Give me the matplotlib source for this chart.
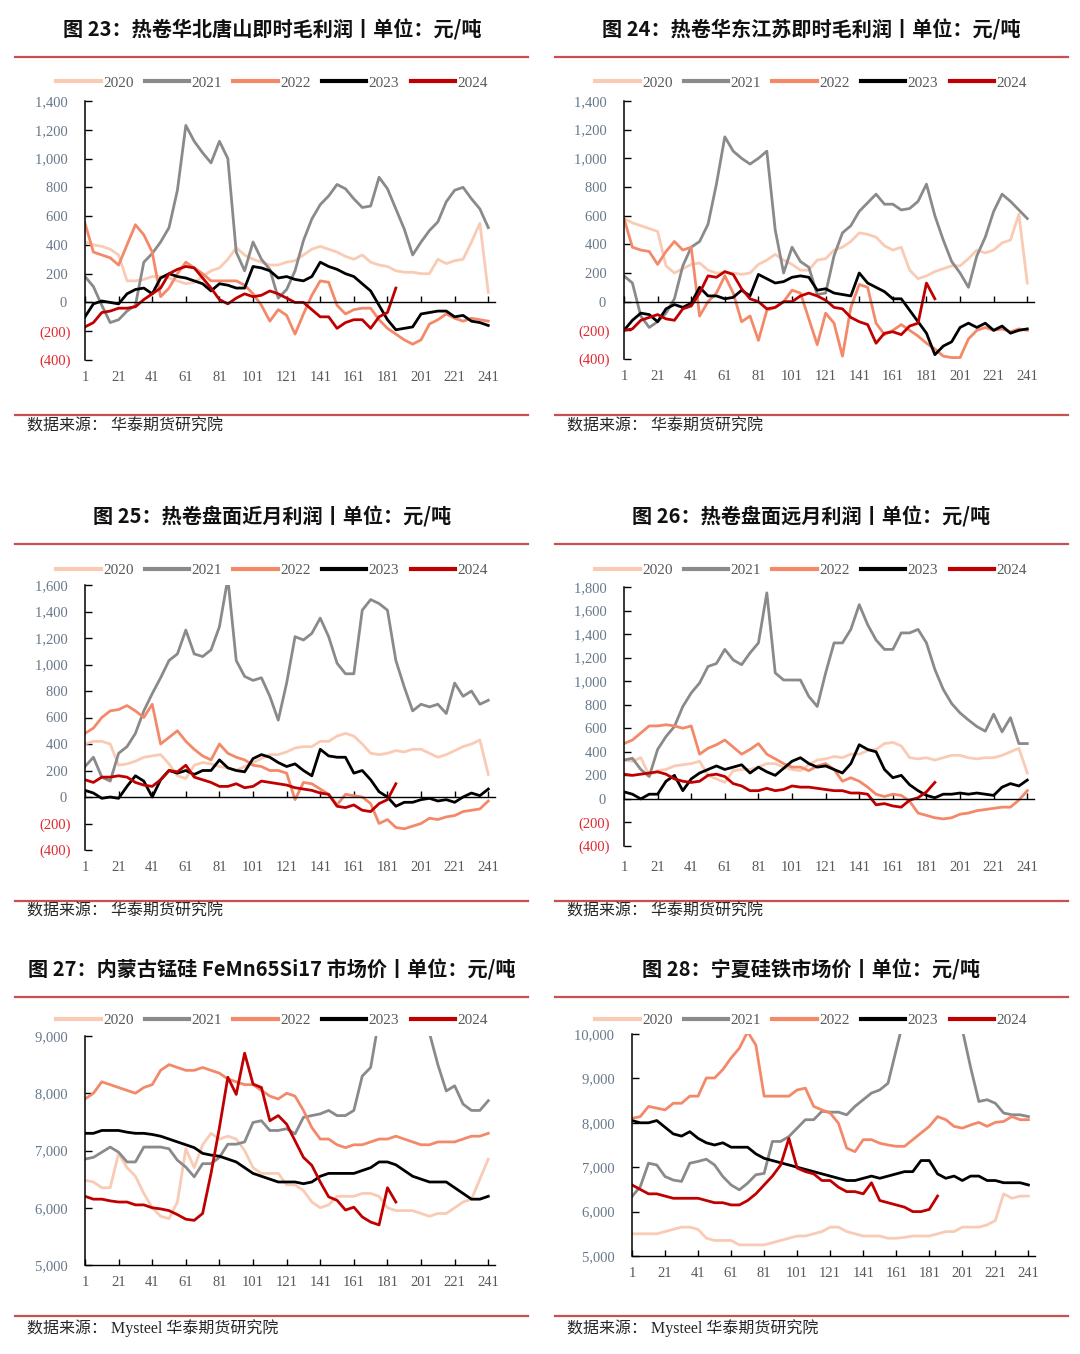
import matplotlib.pyplot as plt
from matplotlib.lines import Line2D

plt.rcParams['font.family'] = ['Liberation Serif', 'Noto Sans CJK SC']

# trading-day index, sampled every 5 days
days = list(range(1, 242, 5))
days_2024 = days[:38]
xticks = list(range(1, 242, 20))

years = ['2020', '2021', '2022', '2023', '2024']
colors = ['#F9CBB4', '#8A8A8A', '#F4896A', '#000000', '#C00000']

# 图23 热卷华北唐山即时毛利润
ts_2020 = [420, 400, 390, 370, 330, 150, 150, 160, 180, 180, 170, 150, 130, 140, 180, 220, 240, 300, 380, 330,
           300, 280, 260, 260, 280, 290, 330, 370, 390, 370, 350, 320, 300, 330, 280, 260, 250, 220, 210, 210,
           200, 200, 300, 270, 290, 300, 420, 550, 70]
ts_2021 = [180, 110, -20, -140, -120, -60, -20, 280, 340, 420, 520, 780, 1230, 1120, 1040, 970, 1120, 1000, 350, 220,
           420, 300, 230, 30, 90, 220, 430, 580, 680, 740, 820, 790, 720, 660, 670, 870, 790, 650, 510, 330,
           420, 500, 560, 700, 780, 800, 720, 650, 520]
ts_2022 = [550, 350, 330, 310, 260, 400, 540, 470, 350, 40, 100, 200, 280, 240, 200, 150, 150, 150, 150, 120,
           60, -20, -130, -50, -90, -220, -80, 50, 150, 140, -20, -80, -50, -40, -40, -120, -180, -220, -260, -290,
           -260, -150, -120, -80, -110, -130, -110, -120, -130]
ts_2023 = [-100, -10, 10, 0, -10, 60, 90, 100, 60, 170, 200, 180, 170, 150, 130, 80, 130, 120, 100, 100,
           250, 240, 220, 170, 180, 160, 150, 180, 280, 250, 230, 200, 180, 130, 80, -20, -120, -190, -180, -170,
           -80, -70, -60, -60, -100, -90, -130, -140, -160]
ts_2024 = [-170, -140, -70, -60, -40, -40, -30, 20, 60, 100, 200, 230, 250, 240, 170, 100, 20, -10, 30, 60,
           40, 50, 80, 60, 30, 0, 0, -50, -100, -100, -180, -140, -120, -120, -180, -100, -70, 100]

# 图24 热卷华东江苏即时毛利润
js_2020 = [580, 550, 530, 510, 490, 250, 200, 230, 260, 270, 220, 200, 200, 200, 190, 200, 260, 290, 330, 290,
           260, 220, 220, 290, 300, 360, 380, 420, 480, 470, 450, 390, 360, 380, 220, 160, 180, 210, 230, 250,
           250, 300, 360, 340, 360, 410, 430, 610, 130]
js_2021 = [180, 130, -100, -180, -140, -80, 20, 250, 380, 420, 540, 820, 1150, 1050, 1000, 960, 1000, 1050, 500, 200,
           380, 280, 240, 50, 60, 320, 480, 530, 630, 690, 750, 680, 680, 640, 650, 700, 820, 600, 430, 280,
           200, 100, 320, 450, 630, 750, 700, 640, 580]
js_2022 = [580, 380, 360, 350, 260, 350, 420, 360, 380, -100, 0, 60, 180, 60, -140, -100, -270, -60, -40, 0,
           80, 60, -120, -300, -80, -150, -380, -40, 120, 100, -150, -230, -200, -160, -200, -240, -290, -330, -380, -390,
           -390, -260, -200, -180, -200, -190, -210, -190, -200]
js_2023 = [-200, -130, -80, -90, -140, -50, -20, -40, -10, 100, 40, 40, 20, 30, 80, 40, 190, 160, 130, 140,
           170, 180, 170, 80, 90, 60, 50, 40, 200, 130, 100, 70, 20, 20, -60, -140, -220, -370, -310, -280,
           -180, -150, -180, -150, -200, -170, -220, -200, -190]
js_2024 = [-200, -190, -130, -110, -90, -120, -130, -50, -30, 60, 180, 170, 210, 190, 90, 20, 0, -50, -40, 0,
           0, 40, 60, 40, 10, -40, -50, -110, -140, -160, -290, -220, -210, -230, -170, -150, 130, 20]

# 图25 热卷盘面近月利润
jy_2020 = [400, 420, 420, 400, 240, 250, 270, 300, 310, 320, 250, 160, 140, 240, 260, 250, 230, 220, 200, 230,
           260, 290, 320, 320, 340, 370, 380, 380, 420, 420, 460, 480, 460, 400, 330, 320, 330, 350, 340, 360,
           360, 330, 300, 320, 350, 380, 400, 430, 170]
jy_2021 = [230, 300, 150, 120, 330, 380, 480, 650, 780, 900, 1030, 1080, 1260, 1080, 1060, 1110, 1285, 1650, 1030, 910,
           880, 900, 760, 580, 860, 1210, 1185, 1235, 1350, 1210, 1010, 930, 930, 1410, 1490, 1460, 1410, 1030, 830, 650,
           700, 680, 700, 630, 860, 760, 800, 700, 730]
jy_2022 = [480, 520, 600, 650, 660, 690, 650, 600, 700, 400, 450, 500, 420, 360, 310, 280, 400, 330, 300, 280,
           240, 230, 200, 200, 180, -20, 110, 100, 60, 20, -60, 20, 10, 0, -50, -200, -170, -230, -240, -220,
           -200, -160, -170, -150, -140, -110, -100, -90, -30]
jy_2023 = [50, 30, -10, 0, -10, 80, 160, 120, 0, 130, 200, 180, 200, 170, 200, 200, 280, 220, 200, 190,
           290, 320, 300, 260, 230, 250, 200, 160, 360, 310, 300, 300, 180, 200, 130, 40, 0, -70, -40, -40,
           -20, -10, -30, -20, -40, 0, 30, 10, 60]
jy_2024 = [130, 110, 150, 150, 160, 150, 110, 90, 80, 130, 200, 190, 240, 150, 130, 110, 80, 80, 100, 70,
           80, 120, 110, 100, 90, 70, 60, 50, 30, 20, -70, -80, -60, -100, -110, -50, -20, 100]

# 图26 热卷盘面远月利润
yy_2020 = [330, 320, 350, 200, 240, 250, 280, 290, 300, 320, 200, 170, 140, 240, 250, 250, 270, 300, 300, 270,
           250, 240, 290, 330, 340, 360, 350, 380, 380, 410, 420, 470, 480, 450, 350, 340, 350, 330, 350, 370,
           370, 350, 340, 350, 350, 370, 400, 430, 220]
yy_2021 = [330, 345, 250, 190, 420, 530, 615, 785, 900, 985, 1125, 1150, 1270, 1180, 1140, 1240, 1325, 1750, 1070, 1010,
           1010, 1010, 870, 785, 1070, 1325, 1325, 1440, 1650, 1480, 1350, 1270, 1270, 1410, 1410, 1440, 1325, 1100, 930, 810,
           730, 670, 615, 575, 720, 570, 690, 470, 470]
yy_2022 = [470, 500, 560, 620, 620, 630, 620, 600, 620, 380, 430, 460, 500, 440, 380, 420, 470, 380, 340, 300,
           270, 270, 240, 280, 300, 250, 150, 180, 150, 100, 40, 20, 40, 30, -20, -120, -140, -160, -170, -160,
           -130, -120, -100, -90, -80, -70, -70, -10, 70]
yy_2023 = [60, 40, 0, 40, 40, 150, 200, 70, 170, 220, 250, 280, 250, 270, 290, 220, 270, 230, 200, 260,
           320, 350, 300, 270, 280, 250, 220, 300, 460, 420, 400, 250, 180, 200, 120, 70, 30, 10, 40, 40,
           50, 40, 50, 40, 30, 100, 130, 110, 160]
yy_2024 = [210, 200, 210, 220, 230, 210, 170, 150, 140, 150, 200, 210, 190, 130, 110, 70, 70, 90, 70, 80,
           110, 100, 100, 90, 80, 70, 70, 50, 50, 40, -50, -40, -60, -70, -10, 10, 60, 140]

# 图27 内蒙古锰硅 FeMn65Si17 市场价
mn_2020 = [6480, 6450, 6350, 6350, 6950, 6700, 6550, 6250, 6000, 5850, 5810, 6100, 7030, 6700, 7100, 7300, 7200, 7250, 7200, 7000,
           6700, 6600, 6600, 6600, 6400, 6400, 6300, 6100, 6000, 6050, 6200, 6200, 6200, 6250, 6250, 6200, 6000, 5950, 5950, 5950,
           5900, 5850, 5900, 5900, 6000, 6100, 6150, 6500, 6850]
mn_2021 = [6850, 6880, 6970, 7060, 6970, 6800, 6800, 7060, 7060, 7060, 7030, 6830, 6710, 6540, 6770, 6770, 6880, 7110, 7110, 7150,
           7490, 7520, 7350, 7350, 7380, 7290, 7580, 7610, 7640, 7700, 7610, 7610, 7700, 8300, 8450, 9300, 9900, 10200, 10300, 10200,
           9800, 9050, 8500, 8040, 8130, 7810, 7700, 7700, 7870]
mn_2022 = [7900, 8000, 8200, 8150, 8100, 8050, 8000, 8100, 8150, 8400, 8500, 8450, 8400, 8400, 8450, 8400, 8350, 8250, 8200, 8150,
           8150, 8050, 7950, 7900, 8000, 7950, 7700, 7400, 7200, 7200, 7100, 7050, 7100, 7100, 7150, 7200, 7200, 7250, 7200, 7150,
           7100, 7100, 7150, 7150, 7150, 7200, 7250, 7250, 7300]
mn_2023 = [7300, 7300, 7350, 7350, 7350, 7320, 7300, 7300, 7280, 7250, 7200, 7150, 7100, 7050, 6950, 6920, 6900, 6850, 6800, 6700,
           6600, 6550, 6500, 6450, 6450, 6450, 6420, 6450, 6550, 6600, 6600, 6600, 6600, 6650, 6700, 6800, 6800, 6750, 6650, 6550,
           6500, 6450, 6450, 6450, 6350, 6250, 6150, 6150, 6200]
mn_2024 = [6200, 6150, 6150, 6120, 6100, 6100, 6050, 6050, 6000, 5980, 5950, 5880, 5800, 5780, 5900, 6600, 7400, 8280, 7980, 8700,
           8160, 8100, 7520, 7610, 7460, 7170, 6880, 6740, 6450, 6190, 6130, 5960, 6010, 5840, 5750, 5700, 6350, 6100]

# 图28 宁夏硅铁市场价
fs_2020 = [5500, 5500, 5500, 5500, 5550, 5600, 5650, 5650, 5600, 5400, 5350, 5350, 5350, 5250, 5250, 5250, 5250, 5300, 5350, 5400,
           5450, 5450, 5500, 5550, 5650, 5650, 5550, 5500, 5450, 5450, 5450, 5400, 5400, 5420, 5450, 5450, 5450, 5500, 5550, 5550,
           5650, 5650, 5650, 5700, 5800, 6400, 6300, 6350, 6350]
fs_2021 = [6340, 6560, 7090, 7050, 6790, 6710, 6680, 7090, 7130, 7180, 7050, 6790, 6600, 6490, 6640, 6830, 6860, 7580, 7580, 7690,
           7880, 8070, 8070, 8260, 8240, 8240, 8180, 8370, 8520, 8670, 8740, 8890, 9650, 10400, 10800, 11000, 11000, 10900, 10700, 10400,
           10100, 9250, 8480, 8520, 8440, 8220, 8180, 8180, 8140]
fs_2022 = [8100, 8140, 8370, 8330, 8290, 8440, 8440, 8600, 8600, 9010, 9010, 9200, 9460, 9680, 10050, 9750, 8600, 8600, 8600, 8600,
           8740, 8780, 8370, 8290, 8220, 7990, 7430, 7350, 7620, 7620, 7540, 7500, 7470, 7470, 7620, 7770, 7920, 8140, 8070, 7920,
           7880, 7950, 8010, 7920, 8010, 8030, 8140, 8070, 8070]
fs_2023 = [8050, 8000, 8000, 8050, 7900, 7750, 7700, 7800, 7650, 7550, 7500, 7550, 7450, 7450, 7450, 7300, 7200, 7150, 7100, 7050,
           7000, 6950, 6900, 6850, 6800, 6750, 6700, 6700, 6750, 6800, 6750, 6800, 6850, 6900, 6900, 7150, 7150, 6850, 6750, 6800,
           6700, 6800, 6800, 6700, 6700, 6650, 6650, 6650, 6600]
fs_2024 = [6600, 6500, 6400, 6400, 6350, 6300, 6300, 6300, 6300, 6250, 6200, 6200, 6150, 6150, 6250, 6400, 6600, 6800, 7050, 7650,
           6980, 6900, 6850, 6700, 6700, 6550, 6450, 6450, 6400, 6650, 6250, 6200, 6150, 6100, 6000, 6000, 6050, 6350]

titles = ['图 23：热卷华北唐山即时毛利润丨单位：元/吨',
          '图 24：热卷华东江苏即时毛利润丨单位：元/吨',
          '图 25：热卷盘面近月利润丨单位：元/吨',
          '图 26：热卷盘面远月利润丨单位：元/吨',
          '图 27：内蒙古锰硅 FeMn65Si17 市场价丨单位：元/吨',
          '图 28：宁夏硅铁市场价丨单位：元/吨']
sources = ['数据来源： 华泰期货研究院'] * 4 + ['数据来源： Mysteel 华泰期货研究院'] * 2

series = [
    [ts_2020, ts_2021, ts_2022, ts_2023, ts_2024],
    [js_2020, js_2021, js_2022, js_2023, js_2024],
    [jy_2020, jy_2021, jy_2022, jy_2023, jy_2024],
    [yy_2020, yy_2021, yy_2022, yy_2023, yy_2024],
    [mn_2020, mn_2021, mn_2022, mn_2023, mn_2024],
    [fs_2020, fs_2021, fs_2022, fs_2023, fs_2024],
]
yranges = [(-400, 1400, 200), (-400, 1400, 200), (-400, 1600, 200),
           (-400, 1800, 200), (5000, 9000, 1000), (5000, 10000, 1000)]

# layout in pixels: axes (left, top, width, bottom); per row: title y, top rule y, legend y, bottom rule y, source y
W, H = 1080, 1354
axes_px = [(85, 101, 410, 360), (624, 101, 410, 359),
           (85, 585, 410, 850), (624, 587, 410, 846),
           (85, 1036, 410, 1265), (632, 1034, 403, 1256)]
row_px = [(30, 57, 83, 415, 427), (517, 544, 570, 901, 912), (970, 997, 1020, 1316, 1328)]
col_px = [(15, 528, 272, 27), (555, 1068, 811, 567)]
label_pad = [8, 8, 8, 11, 8, 8]

fig = plt.figure(figsize=(W / 100, H / 100), dpi=100)


def fmt(v):
    return f'({-v:,})' if v < 0 else f'{v:,} '


for i in range(6):
    row, col = divmod(i, 2)
    l, t, w, b = axes_px[i]
    ax = fig.add_axes([l / W, 1 - b / H, w / W, (b - t) / H])
    lo, hi, step = yranges[i]

    for yr, c, vals in zip(years, colors, series[i]):
        x = days_2024 if yr == '2024' else days
        ax.plot(x, vals, color=c, lw=2.0, label=yr, solid_joinstyle='round')

    ax.set_xlim(1, 245)
    ax.set_ylim(lo, hi)
    yt = list(range(lo, hi + 1, step))
    ax.set_yticks(yt)
    ax.set_yticklabels([fmt(v) for v in yt])
    for v, lab in zip(yt, ax.get_yticklabels()):
        lab.set_color('#E0282E' if v < 0 else '#66788A')
    ax.tick_params(axis='y', direction='in', length=5, width=1, pad=10, labelsize=10.5)

    for s in ['top', 'right']:
        ax.spines[s].set_visible(False)
    ax.spines['left'].set_linewidth(1.1)
    ax.spines['bottom'].set_linewidth(1.0)
    ax.set_xticks(xticks)

    if lo < 0:
        # x axis line sits on zero, labels stay at the bottom
        ax.spines['bottom'].set_position(('data', 0))
        ax.tick_params(axis='x', direction='in', length=4, width=1, labelbottom=False)
        sec = ax.secondary_xaxis('bottom')
        sec.set_xticks(xticks)
        sec.spines['bottom'].set_visible(False)
        sec.tick_params(axis='x', length=0, pad=label_pad[i], labelsize=10.5, labelcolor='#595959')
    else:
        ax.tick_params(axis='x', direction='in', length=4, width=1, pad=label_pad[i],
                       labelsize=10.5, labelcolor='#595959')

    ty, rule1, ly, rule2, sy = row_px[row]
    x0, x1, cx, sx = col_px[col]
    leg = ax.legend(loc='center', bbox_to_anchor=(cx / W, 1 - ly / H), bbox_transform=fig.transFigure,
                    ncol=5, frameon=False, fontsize=11, handlelength=2.9, handletextpad=0.15,
                    columnspacing=0.75, labelcolor='#595959', borderaxespad=0, borderpad=0)
    for hl in leg.get_lines():
        hl.set_linewidth(3.0)

    fig.text(cx / W, 1 - ty / H, titles[i], ha='center', va='center', fontsize=14.5,
             fontweight='bold', family=['Noto Sans CJK SC'], color='#111111')
    for ry in (rule1, rule2):
        fig.add_artist(Line2D([x0 / W, x1 / W], [1 - ry / H, 1 - ry / H], color='#C8504F', lw=1.6))
    fig.text(sx / W, 1 - sy / H, sources[i], ha='left', va='center', fontsize=11.5, color='#262626')

fig.savefig('out.png', dpi=100)
